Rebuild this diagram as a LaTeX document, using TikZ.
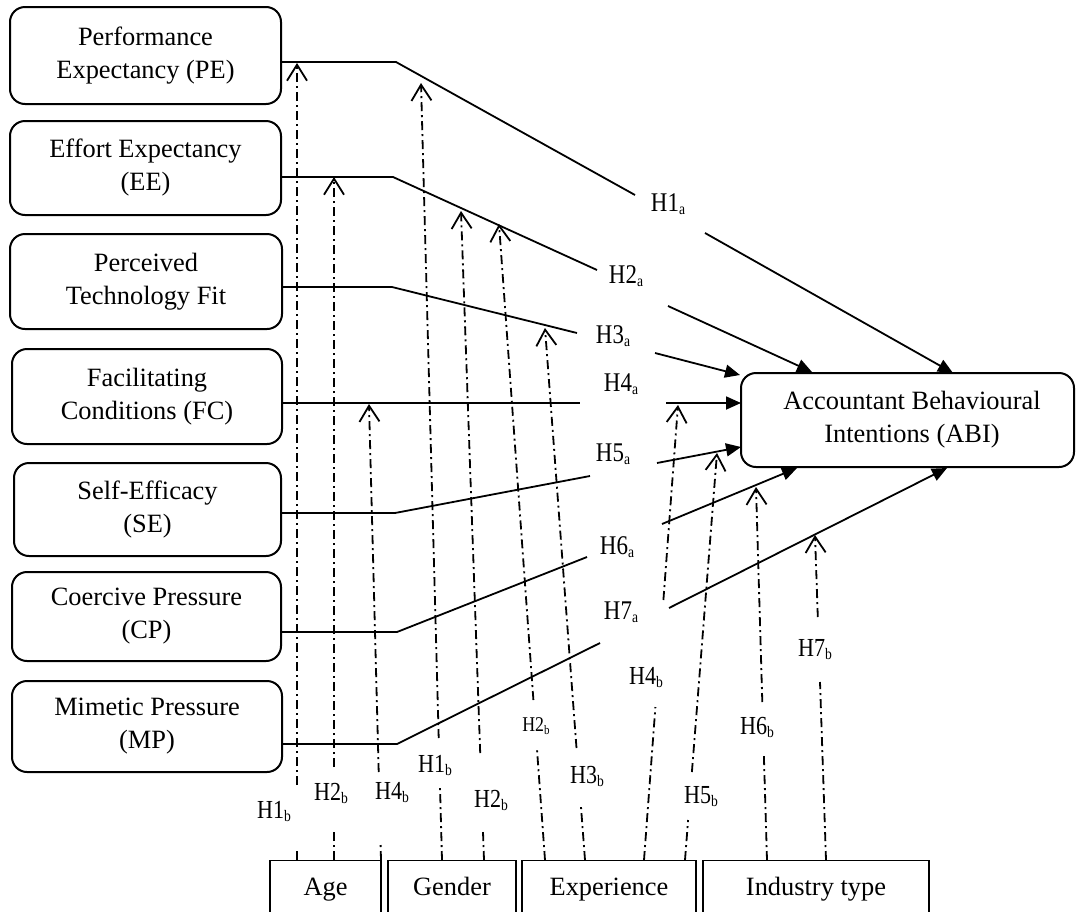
\documentclass[tikz,border=0pt]{standalone}
\usepackage{fontspec}
\setmainfont{Liberation Serif}
\usepackage{graphicx}
\usetikzlibrary{arrows.meta,calc}
\newcommand\Hlab[4]{\scalebox{0.85}[1]{\fontsize{#1}{#1}\selectfont H#3\raisebox{-3pt}{\fontsize{#2}{#2}\selectfont #4}}}
\begin{document}
\begin{tikzpicture}[x=1pt,y=-1pt,
  lbox/.style={draw, line width=2pt, rounded corners=15pt, align=center,
    font=\fontsize{26.4}{33}\selectfont, inner sep=0pt},
  mbox/.style={draw, line width=1.3pt, anchor=north, minimum height=58pt,
    text height=18pt, text depth=6pt, font=\fontsize{26.4}{33}\selectfont, inner sep=0pt},
  link/.style={line width=1.8pt},
  toabi/.style={link, -{Triangle[length=15pt,width=13pt]}},
  modline/.style={line width=1.8pt, dash pattern=on 9pt off 4pt on 2pt off 4pt},
  modarrow/.style={modline, -{Straight Barb[length=16pt,width=20pt,line width=1.8pt]}},
  hl/.style={inner sep=0pt}]
\useasboundingbox (0,0) rectangle (1076,911);

% constructs
\node[lbox, minimum width=271pt, minimum height=97pt] (PE) at (145.5,55.5) {Performance\\Expectancy (PE)};
\node[lbox, minimum width=271pt, minimum height=94pt] (EE) at (145.5,168) {Effort Expectancy\\(EE)};
\node[lbox, minimum width=272pt, minimum height=95pt] (PTF) at (146,281.5) {Perceived\\Technology Fit};
\node[lbox, minimum width=270pt, minimum height=95pt] (FC) at (147,396.5) {Facilitating\\Conditions (FC)};
\node[lbox, minimum width=267pt, minimum height=93pt] (SE) at (147.5,509.5) {Self-Efficacy\\(SE)};
\node[lbox, minimum width=269pt, minimum height=89pt] (CP) at (146.5,616.5) {Coercive Pressure\\(CP)};
\node[lbox, minimum width=270pt, minimum height=91pt] (MP) at (147,726.5) {Mimetic Pressure\\(MP)};
\node[lbox, minimum width=333pt, minimum height=94pt] (ABI) at (907.5,420) {\hspace*{9pt}Accountant Behavioural\\\hspace*{9pt}Intentions (ABI)};

% moderators
\node[mbox, minimum width=111pt] (age) at (325.5,860) {Age};
\node[mbox, minimum width=128pt] (gender) at (452,860) {Gender};
\node[mbox, minimum width=174pt] (exper) at (609,860) {Experience};
\node[mbox, minimum width=226pt] (indus) at (816,860) {Industry type};

% direct paths
\coordinate (b1) at (396,62);  \coordinate (e1) at (635,195); \coordinate (s1) at (705,233); \coordinate (t1) at (953,373);
\coordinate (b2) at (393,177); \coordinate (e2) at (597,270); \coordinate (s2) at (668,306); \coordinate (t2) at (812,372);
\coordinate (b3) at (392,287); \coordinate (e3) at (577,333); \coordinate (s3) at (655,353); \coordinate (t3) at (740,375);
\coordinate (e4) at (580,403); \coordinate (s4) at (666,403); \coordinate (t4) at (741,403);
\coordinate (b5) at (395,513); \coordinate (e5) at (590,476); \coordinate (s5) at (657,463); \coordinate (t5) at (741,447);
\coordinate (b6) at (397,632); \coordinate (e6) at (587,557); \coordinate (s6) at (662,524); \coordinate (t6) at (797,468);
\coordinate (b7) at (397,744); \coordinate (e7) at (600,643); \coordinate (s7) at (669,608); \coordinate (t7) at (947,468);

\node[hl] (H1a) at (668,204) {\Hlab{27}{16}{1}{a}};
\node[hl] (H2a) at (626,276) {\Hlab{27}{16}{2}{a}};
\node[hl] (H3a) at (613,336) {\Hlab{27}{16}{3}{a}};
\node[hl] (H4a) at (621,384) {\Hlab{27}{16}{4}{a}};
\node[hl] (H5a) at (613,454) {\Hlab{27}{16}{5}{a}};
\node[hl] (H6a) at (617,547) {\Hlab{27}{16}{6}{a}};
\node[hl] (H7a) at (621,612) {\Hlab{27}{16}{7}{a}};

\draw[link] (PE.east |- b1) -- (b1) -- (e1);  \draw[toabi] (s1) -- (t1);
\draw[link] (EE.east |- b2) -- (b2) -- (e2);  \draw[toabi] (s2) -- (t2);
\draw[link] (PTF.east |- b3) -- (b3) -- (e3); \draw[toabi] (s3) -- (t3);
\draw[link] (FC.east |- e4) -- (e4);          \draw[toabi] (s4) -- (t4);
\draw[link] (SE.east |- b5) -- (b5) -- (e5);  \draw[toabi] (s5) -- (t5);
\draw[link] (CP.east |- b6) -- (b6) -- (e6);  \draw[toabi] (s6) -- (t6);
\draw[link] (MP.east |- b7) -- (b7) -- (e7);  \draw[toabi] (s7) -- (t7);

% moderating paths
\coordinate (m1) at (297,860);  \coordinate (g1a) at (297,850);   \coordinate (g1b) at (297,785);   \coordinate (p1) at (297,63);
\coordinate (m2) at (334,860);  \coordinate (g2a) at (334,830);   \coordinate (g2b) at (334,767);   \coordinate (p2) at (334,177);
\coordinate (m3) at (381,860);  \coordinate (g3a) at (380.6,845); \coordinate (g3b) at (378.7,772); \coordinate (p3) at (369,404);
\coordinate (m4) at (442,860);  \coordinate (g4a) at (440,787);   \coordinate (g4b) at (438.7,738); \coordinate (p4) at (421,83);
\coordinate (m5) at (484,860);  \coordinate (g5a) at (483,832);   \coordinate (g5b) at (480.2,753); \coordinate (p5) at (461,211);
\coordinate (m6) at (545,860);  \coordinate (g6a) at (536.9,748); \coordinate (g6b) at (533.4,700); \coordinate (p6) at (499,224);
\coordinate (m7) at (585,860);  \coordinate (g7a) at (581,807);   \coordinate (g7b) at (576.5,748); \coordinate (p7) at (545,328);
\coordinate (m8) at (644,860);  \coordinate (g8a) at (655.4,707); \coordinate (g8b) at (663.4,600); \coordinate (p8) at (678,405);
\coordinate (m9) at (685,860);  \coordinate (g9a) at (688.1,820); \coordinate (g9b) at (691.9,772); \coordinate (p9) at (717,453);
\coordinate (m10) at (767,860); \coordinate (g10a) at (763.8,753); \coordinate (g10b) at (762.3,702); \coordinate (p10) at (756,487);
\coordinate (m11) at (826,860); \coordinate (g11a) at (820,682);   \coordinate (g11b) at (817.8,617); \coordinate (p11) at (815,535);

\node[hl] (H1bA) at (274,811) {\Hlab{26}{16}{1}{b}};
\node[hl] (H2bA) at (331,793) {\Hlab{26}{16}{2}{b}};
\node[hl] (H4bA) at (392,793) {\Hlab{26}{16}{4}{b}};
\node[hl] (H1bG) at (435,765) {\Hlab{26}{16}{1}{b}};
\node[hl] (H2bG) at (491,800) {\Hlab{26}{16}{2}{b}};
\node[hl] (H2bE) at (536,726) {\Hlab{21}{13}{2}{b}};
\node[hl] (H3bE) at (587,776) {\Hlab{26}{16}{3}{b}};
\node[hl] (H4bE) at (646,678) {\Hlab{26}{16}{4}{b}};
\node[hl] (H5bE) at (701,797) {\Hlab{26}{16}{5}{b}};
\node[hl] (H6bI) at (757,727) {\Hlab{26}{16}{6}{b}};
\node[hl] (H7bI) at (815,650) {\Hlab{26}{16}{7}{b}};

\foreach \i in {1,...,11}{
  \draw[modline] (m\i) -- (g\i a);
  \draw[modarrow] (g\i b) -- (p\i);
}
\end{tikzpicture}
\end{document}
